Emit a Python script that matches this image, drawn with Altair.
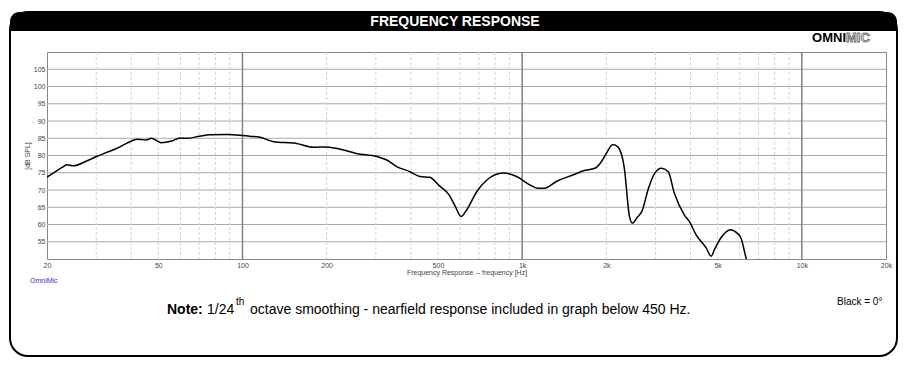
import altair as alt
import pandas as pd

# ---- data ----
freq_hz = [20, 22.9, 23.5, 24.8, 27.7, 30.1, 32.7, 35.6, 38.5, 42.1, 45.3, 47.2, 51.2, 55.8,
           59.8, 63.2, 70.3, 76.3, 87.9, 98, 106, 115.5, 129, 156, 179, 200, 224, 255, 303,
           328, 356, 397, 431, 467, 506, 548, 577, 605, 633, 688, 748, 856, 956, 1064, 1137,
           1199, 1335, 1525, 1655, 1820, 1920, 2000, 2110, 2200, 2320, 2420, 2480, 2580, 2680,
           2830, 2980, 3150, 3330, 3500, 3800, 3960, 4190, 4550, 4740, 4870, 5176, 5560, 5870,
           6060, 6320, 6450]
spl_db = [73.7, 76.8, 77.3, 77.0, 78.4, 79.7, 80.9, 82.1, 83.5, 84.7, 84.5, 85.0, 83.7, 84.2,
          85.1, 84.97, 85.6, 86.0, 86.1, 85.9, 85.6, 85.3, 84.0, 83.5, 82.4, 82.5, 81.8, 80.6, 79.7,
          78.7, 76.8, 75.3, 73.9, 73.7, 71.2, 68.6, 65.2, 62.3, 64.2, 69.5, 72.9, 74.9, 73.9, 71.5, 70.5,
          70.5, 72.6, 74.4, 75.6, 76.3, 78.2, 80.6, 83.2, 82.5, 76.3, 62.3, 60.4, 62.1, 63.8,
          70.5, 74.9, 76.3, 75.3, 69.1, 62.8, 60.9, 57.0, 53.2, 50.8, 52.7, 56.5, 58.5, 57.5,
          56.1, 50.3, 48.0]
y_ticks = [55, 60, 65, 70, 75, 80, 85, 90, 95, 100, 105]
x_ticks = [20, 50, 100, 200, 500, 1000, 2000, 5000, 10000, 20000]
decade_lines = [100, 1000, 10000]
minor_lines = [30, 40, 50, 60, 70, 80, 90, 200, 300, 400, 500, 600, 700, 800, 900,
               2000, 3000, 4000, 5000, 6000, 7000, 8000, 9000]
grid_db = [55, 60, 65, 70, 75, 80, 85, 90, 95, 100, 105]

FONT = "Liberation Sans"
W, H = 839, 207

xs = alt.Scale(type="log", domain=[20, 20000], nice=False)
ys = alt.Scale(domain=[50, 110], nice=False, zero=False)

x_axis = alt.Axis(values=x_ticks, title="Frequency Response -- frequency [Hz]",
                  labelExpr="datum.value >= 1000 ? (datum.value/1000) + 'k' : datum.value",
                  grid=False, ticks=False, domain=False, labelFontSize=7,
                  labelColor="#444444", labelPadding=2, titleFontSize=7,
                  titleFontWeight="normal", titleColor="#444444", titlePadding=0,
                  labelFont=FONT, titleFont=FONT, zindex=1, labelFlush=False)
y_axis = alt.Axis(values=y_ticks, title="[dB SPL]", grid=False, ticks=False,
                  domain=False, labelFontSize=7, labelColor="#444444", labelPadding=2,
                  titleFontSize=7, titleFontWeight="normal", titleColor="#444444",
                  titlePadding=3, labelFont=FONT, titleFont=FONT, zindex=1)

df = pd.DataFrame({"f": freq_hz, "db": spl_db})
one = pd.DataFrame({"k": [0]})

frame = alt.Chart(one).mark_rect(fill="transparent", stroke="black", strokeWidth=2,
                                 cornerRadius=18).encode(
    x=alt.value(-37), x2=alt.value(850), y=alt.value(-40), y2=alt.value(304))
header = alt.Chart(one).mark_rect(fill="black", cornerRadiusTopLeft=18,
                                  cornerRadiusTopRight=18).encode(
    x=alt.value(-37), x2=alt.value(850), y=alt.value(-40), y2=alt.value(-21))

def txt(text, x, y, size, **kw):
    params = dict(text=text, font=FONT, fontSize=size, baseline="middle")
    params.update(kw)
    return alt.Chart(one).mark_text(**params).encode(x=alt.value(x), y=alt.value(y))

title = txt("FREQUENCY RESPONSE", 408, -30, 14, fontWeight="bold", color="white", align="center")
logo1 = txt("OMNI", 799, -14, 13, fontWeight="bold", color="black", align="right")
logo2 = txt("MIC", 799, -14, 13, fontWeight="bold", fill="#e6e6e6", stroke="#666",
            strokeWidth=0.8, align="left")
omnimic = txt("OmniMic", -17, 229, 7, color="#3333cc", align="left")
note1 = txt("Note:", 120, 258, 14, fontWeight="bold", color="black", align="left")
note2 = txt("1/24", 160, 258, 14, color="black", align="left")
note3 = txt("th", 189, 250, 10, color="black", align="left")
note4 = txt("octave smoothing - nearfield response included in graph below 450 Hz.",
            203, 258, 14, color="black", align="left")
black0 = txt("Black = 0°", 790, 250, 10, color="black", align="left")

df_h = pd.DataFrame({"v": grid_db})
df_dec = pd.DataFrame({"v": decade_lines})
df_min = pd.DataFrame({"v": minor_lines})

hgrid = alt.Chart(df_h).mark_rule(color="#a8a8a8", strokeWidth=1).encode(
    y=alt.Y("v:Q", scale=ys, axis=y_axis))
vmin = alt.Chart(df_min).mark_rule(color="#d4d4d4", strokeWidth=1, strokeDash=[3, 2]).encode(
    x=alt.X("v:Q", scale=xs, axis=x_axis))
vdec = alt.Chart(df_dec).mark_rule(color="#808080", strokeWidth=1.5).encode(
    x=alt.X("v:Q", scale=xs, axis=x_axis))

line = alt.Chart(df).mark_line(color="black", strokeWidth=1.5, clip=True,
                               interpolate="monotone").encode(
    x=alt.X("f:Q", scale=xs, axis=x_axis),
    y=alt.Y("db:Q", scale=ys, axis=y_axis),
)

chart = alt.layer(
    frame, header, hgrid, vmin, vdec, line,
    title, logo1, logo2, omnimic, note1, note2, note3, note4, black0
).properties(
    width=W, height=H,
    autosize=alt.AutoSizeParams(type="none"),
    padding={"left": 39, "top": 44, "right": 14, "bottom": 100},
    background="white",
).configure_view(stroke="#888888", strokeWidth=1)

chart.save("out.html", embed_options={"renderer": "svg", "actions": False})
